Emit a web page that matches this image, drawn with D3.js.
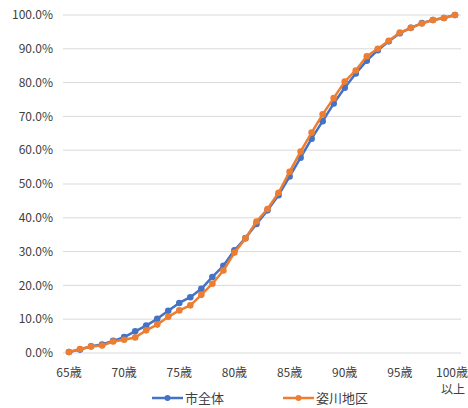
<!DOCTYPE html>
<html><head><meta charset="utf-8">
<script src="https://cdn.jsdelivr.net/npm/d3@7"></script>
<style>body{margin:0;background:#fff}svg{display:block}</style>
</head><body>
<svg id="c" width="468" height="408"></svg>
<script>
const ages = d3.range(65, 101);
const xTickAges = [65, 70, 75, 80, 85, 90, 95, 100];
const xTickLabels = ["65歳", "70歳", "75歳", "80歳", "85歳", "90歳", "95歳", "100歳\n以上"];
const yTicks = [0, 10, 20, 30, 40, 50, 60, 70, 80, 90, 100];
const seriesNames = ["市全体", "姿川地区"];
const cityValues = [0.3, 1.0, 2.0, 2.5, 3.6, 4.7, 6.4, 8.1, 10.1, 12.5, 14.8, 16.5, 19.0, 22.5, 25.8,
  30.4, 34.0, 38.2, 42.2, 46.7, 52.2, 57.8, 63.4, 68.6, 73.8, 78.5, 82.7, 86.5, 89.6, 92.2, 94.6, 96.2, 97.6, 98.5, 99.1, 100];
const districtValues = [0.3, 1.2, 1.9, 2.2, 3.4, 3.9, 4.6, 6.7, 8.4, 10.7, 12.6, 14.1, 17.2, 20.5, 24.4,
  29.7, 33.9, 38.9, 42.6, 47.4, 53.6, 59.6, 65.2, 70.6, 75.4, 80.3, 83.6, 87.8, 90.0, 92.4, 94.8, 96.2, 97.5, 98.5, 99.1, 100];
const colors = ["#4472C4", "#ED7D31"];

const svg = d3.select("#c");
const font = "'Noto Sans CJK JP', 'Noto Sans', sans-serif";
const x = d3.scaleLinear().domain([65, 100]).range([69, 455]);
const y = d3.scaleLinear().domain([0, 100]).range([353, 15]);

// grid
svg.append("g").selectAll("line").data(yTicks).join("line")
  .attr("x1", 63).attr("x2", 461)
  .attr("y1", d => y(d)).attr("y2", d => y(d))
  .attr("stroke", "#d9d9d9").attr("stroke-width", 1);

// y labels
svg.append("g").selectAll("text").data(yTicks).join("text")
  .attr("x", 53).attr("y", d => y(d)).attr("dy", "0.35em")
  .attr("text-anchor", "end").attr("font-family", font).attr("font-size", 12).attr("fill", "#404040")
  .text(d => d.toFixed(1) + "%");

// x labels
const xl = svg.append("g").selectAll("text").data(xTickAges).join("text")
  .attr("x", d => x(d)).attr("y", 377)
  .attr("text-anchor", "middle").attr("font-family", font).attr("font-size", 12).attr("fill", "#404040");
xl.each(function(d, i) {
  const parts = xTickLabels[i].split("\n");
  const last = i === xTickAges.length - 1;
  d3.select(this).selectAll("tspan").data(parts).join("tspan")
    .attr("x", (p, j) => last && j === 0 ? x(d) - 3 : x(d) - (last ? 2 : 0))
    .attr("dy", (p, j) => j === 0 ? 0 : 17).text(p => p);
});

const line = d3.line().x((d, i) => x(ages[i])).y(d => y(d));
[cityValues, districtValues].forEach((vals, k) => {
  const g = svg.append("g");
  g.append("path").datum(vals).attr("d", line).attr("fill", "none")
    .attr("stroke", colors[k]).attr("stroke-width", 2.5).attr("stroke-linejoin", "round");
  g.selectAll("circle").data(vals).join("circle")
    .attr("cx", (d, i) => x(ages[i])).attr("cy", d => y(d)).attr("r", 3.3)
    .attr("fill", colors[k]);
});

// legend
const legX = [152, 283];
seriesNames.forEach((name, k) => {
  const g = svg.append("g");
  g.append("line").attr("x1", legX[k]).attr("x2", legX[k] + 31).attr("y1", 398).attr("y2", 398)
    .attr("stroke", colors[k]).attr("stroke-width", 2.5);
  g.append("circle").attr("cx", legX[k] + 15.5).attr("cy", 398).attr("r", 3).attr("fill", colors[k]);
  g.append("text").attr("x", legX[k] + 33).attr("y", 398).attr("dy", "0.35em")
    .attr("font-family", font).attr("font-size", 13).attr("fill", "#404040").text(name);
});
</script>
</body></html>
